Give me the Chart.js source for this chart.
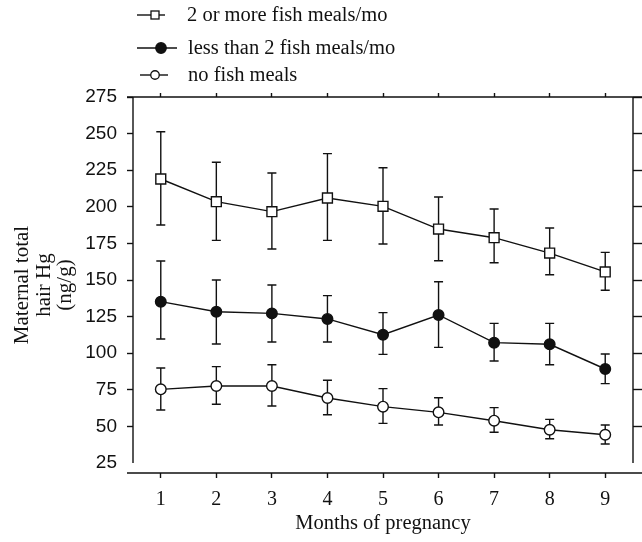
<!DOCTYPE html>
<html>
<head>
<meta charset="utf-8">
<script src="https://cdn.jsdelivr.net/npm/chart.js@4.4.0/dist/chart.umd.min.js"></script>
<style>
  body { margin: 0; background: #fff; }
  #wrap { position: relative; width: 642px; height: 542px; }
  #chart { position: absolute; left: 0; top: 0; }
  .leg-row { position: absolute; height: 24px; line-height: 24px; font: 20.5px "Liberation Serif", "Times New Roman", serif; color: #111; white-space: nowrap; }
  .leg-row svg { position: absolute; top: 0; }
  .leg-row span { position: absolute; }
</style>
</head>
<body>
<div id="wrap">
  <canvas id="chart" width="642" height="542"></canvas>
  <div id="legend"></div>
</div>
<script>
// Months of pregnancy
const months = ["1", "2", "3", "4", "5", "6", "7", "8", "9"];
const seriesNames = ["2 or more fish meals/mo", "less than 2 fish meals/mo", "no fish meals"];
const yTicks = [25, 50, 75, 100, 125, 150, 175, 200, 225, 250, 275];

// 2 or more fish meals/mo (mean, upper, lower)
const highMean = [219, 203.5, 196.7, 206, 200.3, 184.8, 178.9, 168.4, 155.5];
const highUpper = [251.3, 230.4, 223.1, 236.3, 226.7, 206.7, 198.5, 185.5, 168.9];
const highLower = [187.6, 177.1, 171.2, 177.1, 174.6, 163.2, 161.8, 153.6, 143];

// less than 2 fish meals/mo
const lowMean = [135.2, 128.3, 127.2, 123.4, 112.6, 126.1, 107.2, 106.1, 89.2];
const lowUpper = [163, 150, 146.6, 139.3, 127.7, 148.8, 120.4, 120.4, 99.5];
const lowLower = [109.7, 106.3, 107.7, 107.7, 99.2, 104, 94.7, 92.1, 79.2];

// no fish meals
const noneMean = [75.3, 77.6, 77.6, 69.4, 63.5, 59.6, 53.9, 47.7, 44.3];
const noneUpper = [89.9, 90.8, 92.1, 81.5, 75.8, 69.6, 62.8, 54.8, 51];
const noneLower = [61.2, 65.1, 63.9, 58, 52.1, 51, 46, 41.6, 38];

const ink = "#111";
const serif = "'Liberation Serif', 'Times New Roman', serif";
const sans = "'Liberation Sans', Arial, sans-serif";

// error bars drawn from each point to its upper/lower value
const errorBars = {
  id: "errorBars",
  beforeDatasetsDraw(chart) {
    const ctx = chart.ctx;
    const y = chart.scales.y;
    chart.data.datasets.forEach((ds, i) => {
      const meta = chart.getDatasetMeta(i);
      meta.data.forEach((pt, j) => {
        const top = y.getPixelForValue(ds.upper[j]);
        const bot = y.getPixelForValue(ds.lower[j]);
        ctx.save();
        ctx.strokeStyle = ink;
        ctx.lineWidth = 1.4;
        ctx.beginPath();
        ctx.moveTo(pt.x, top); ctx.lineTo(pt.x, bot);
        ctx.moveTo(pt.x - 4.5, top); ctx.lineTo(pt.x + 4.5, top);
        ctx.moveTo(pt.x - 4.5, bot); ctx.lineTo(pt.x + 4.5, bot);
        ctx.stroke();
        ctx.restore();
      });
    });
  }
};

// box frame: side lines stop at the lowest tick, top/bottom lines run a bit past
const frame = {
  id: "frame",
  afterDraw(chart) {
    const ctx = chart.ctx;
    const a = chart.chartArea;
    const y25 = chart.scales.y.getPixelForValue(yTicks[0]);
    ctx.save();
    ctx.strokeStyle = ink;
    ctx.lineWidth = 1.4;
    ctx.beginPath();
    ctx.moveTo(a.left - 6, a.top); ctx.lineTo(chart.width, a.top);
    ctx.moveTo(a.left - 6, a.bottom); ctx.lineTo(chart.width, a.bottom);
    ctx.moveTo(a.left, a.top); ctx.lineTo(a.left, y25);
    ctx.moveTo(a.right, a.top); ctx.lineTo(a.right, y25);
    ctx.stroke();
    ctx.restore();
  }
};

const setTicks = axis => { axis.ticks = yTicks.map(v => ({ value: v })); };
const tickColor = c => (c.tick && c.tick.value === yTicks[0]) ? "rgba(0,0,0,0)" : ink;

new Chart(document.getElementById("chart"), {
  type: "line",
  data: {
    labels: months,
    datasets: [
      {
        label: seriesNames[0], data: highMean, upper: highUpper, lower: highLower,
        pointStyle: "rect", pointRadius: 7, pointBackgroundColor: "#fff"
      },
      {
        label: seriesNames[1], data: lowMean, upper: lowUpper, lower: lowLower,
        pointStyle: "circle", pointRadius: 5.3, pointBackgroundColor: ink
      },
      {
        label: seriesNames[2], data: noneMean, upper: noneUpper, lower: noneLower,
        pointStyle: "circle", pointRadius: 5.3, pointBackgroundColor: "#fff"
      }
    ].map(d => Object.assign(d, {
      borderColor: ink, borderWidth: 1.4, pointBorderColor: ink,
      pointBorderWidth: 1.4, tension: 0, fill: false
    }))
  },
  options: {
    responsive: false,
    animation: false,
    events: [],
    layout: { padding: { top: 92, left: 0, right: 0, bottom: 0 } },
    plugins: { legend: { display: false }, tooltip: { enabled: false } },
    scales: {
      x: {
        type: "category", position: "bottom", offset: true,
        border: { display: false },
        grid: { drawOnChartArea: false, tickLength: 5, tickColor: ink, tickWidth: 1.4 },
        ticks: { color: ink, padding: 10, autoSkip: false, maxRotation: 0, font: { family: serif, size: 20 } },
        title: { display: true, text: "Months of pregnancy", color: ink, padding: { top: 6, bottom: 6 }, font: { family: serif, size: 20.5 } },
        afterFit: axis => { axis.height = 69; }
      },
      x2: {
        type: "category", position: "top", offset: true, labels: months,
        border: { display: false },
        grid: { drawOnChartArea: false, tickLength: 4, tickColor: ink, tickWidth: 1.4 },
        ticks: { display: false },
        afterFit: axis => { axis.height = 5; }
      },
      y: {
        type: "linear", position: "left", min: 18.17, max: 275,
        afterBuildTicks: setTicks,
        border: { display: false },
        grid: { drawOnChartArea: false, tickLength: 6, tickColor: tickColor, tickWidth: 1.4 },
        ticks: { color: ink, padding: 10, font: { family: sans, size: 19 } },
        title: {
          display: true, text: ["Maternal total", "hair Hg", "(ng/g)"], color: ink,
          padding: { top: 12, bottom: 0 },
          font: { family: serif, size: 21, lineHeight: "21.5px" }
        },
        afterFit: axis => { axis.width = 133; }
      },
      y2: {
        type: "linear", position: "right", min: 18.17, max: 275,
        afterBuildTicks: setTicks,
        border: { display: false },
        grid: { drawOnChartArea: false, tickLength: 9, tickColor: tickColor, tickWidth: 1.4 },
        ticks: { display: false },
        afterFit: axis => { axis.width = 9; }
      }
    }
  },
  plugins: [errorBars, frame]
});

// legend: a short line with the series marker, then the name
const legendRows = [
  { cy: 15, x1: 137, x2: 165, mx: 155, marker: "rect", fill: "#fff", size: 8 },
  { cy: 48, x1: 137, x2: 177, mx: 161, marker: "circle", fill: ink, size: 10.5 },
  { cy: 75, x1: 140, x2: 168, mx: 155, marker: "circle", fill: "#fff", size: 8.5 }
];
const legendEl = document.getElementById("legend");
legendRows.forEach((r, i) => {
  const row = document.createElement("div");
  row.className = "leg-row";
  row.style.left = "0px";
  row.style.top = (r.cy - 12) + "px";
  const h = r.size / 2;
  const mark = r.marker === "rect"
    ? `<rect x="${r.mx - h}" y="${12 - h}" width="${r.size}" height="${r.size}" fill="${r.fill}" stroke="${ink}" stroke-width="1.3"/>`
    : `<circle cx="${r.mx}" cy="12" r="${h}" fill="${r.fill}" stroke="${ink}" stroke-width="1.3"/>`;
  row.innerHTML = `<svg width="200" height="24" style="left:0"><line x1="${r.x1}" y1="12" x2="${r.x2}" y2="12" stroke="${ink}" stroke-width="1.4"/>${mark}</svg>` +
    `<span style="left:${i === 0 ? 187 : 188}px">${seriesNames[i]}</span>`;
  legendEl.appendChild(row);
});
</script>
</body>
</html>
